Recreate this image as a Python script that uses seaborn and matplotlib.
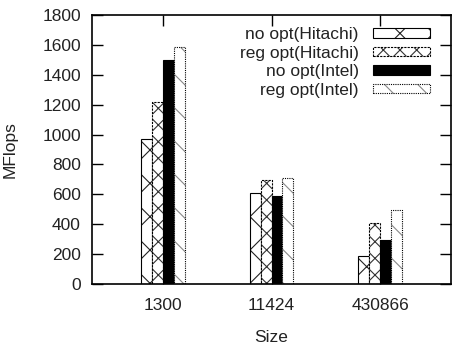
import matplotlib
matplotlib.use("Agg")
import matplotlib.pyplot as plt
import seaborn as sns
import pandas as pd

sizes = ["1300", "11424", "430866"]
series = ["no opt(Hitachi)", "reg opt(Hitachi)", "no opt(Intel)", "reg opt(Intel)"]
no_opt_hitachi = [967, 607, 189]
reg_opt_hitachi = [1218, 693, 411]
no_opt_intel = [1500, 587, 291]
reg_opt_intel = [1584, 711, 495]
yticks = [0, 200, 400, 600, 800, 1000, 1200, 1400, 1600, 1800]

values = [no_opt_hitachi, reg_opt_hitachi, no_opt_intel, reg_opt_intel]
rows = []
for name, vals in zip(series, values):
    for s, v in zip(sizes, vals):
        rows.append({"Size": s, "MFlops": v, "Config": name})
df = pd.DataFrame(rows)

sns.set_theme(style="white")
plt.rcParams["font.family"] = ["Liberation Sans", "DejaVu Sans"]
plt.rcParams["hatch.linewidth"] = 0.8

FS = 12.5
fig = plt.figure(figsize=(4.58, 3.48), dpi=100)
ax = fig.add_axes([0.201, 0.184, 0.784, 0.773])

sns.barplot(data=df, x="Size", y="MFlops", hue="Config", order=sizes,
            hue_order=series, width=0.4, palette=["white"] * 4,
            edgecolor="black", linewidth=0.8, saturation=1, ax=ax,
            legend=True)

styles = [
    dict(face="white", hatch="x", ls="-", hcolor="#222222"),
    dict(face="white", hatch="xx", ls=(0, (2, 1)), hcolor="#333333"),
    dict(face="black", hatch="", ls="-", hcolor="black"),
    dict(face="white", hatch="\\", ls=(0, (1, 1)), hcolor="#888888"),
]
for cont, st in zip(ax.containers, styles):
    for p in cont:
        p.set_facecolor(st["face"])
        p.set_hatch(st["hatch"])
        p.set_linestyle(st["ls"])
        p.set_edgecolor("black")
        p._hatch_color = matplotlib.colors.to_rgba(st["hcolor"])

ax.set_xlim(-0.654, 2.654)
ax.set_ylim(0, 1800)
ax.set_yticks(yticks)
ax.set_yticklabels([str(t) for t in yticks])
ax.set_xticks(range(len(sizes)))
ax.set_xticklabels(sizes)
ax.tick_params(axis="both", direction="in", length=8, width=1, color="black",
               labelsize=FS, labelcolor="#222222", top=True, right=True,
               bottom=True, left=True, pad=8)
ax.tick_params(axis="x", pad=10)
for sp in ax.spines.values():
    sp.set_visible(True)
    sp.set_color("black")
    sp.set_linewidth(1.2)

ax.set_xlabel("Size", fontsize=FS, color="#222222", labelpad=12)
ax.set_ylabel("MFlops", fontsize=FS, color="#222222")
ax.yaxis.set_label_coords(-0.208, 0.5)

handles, labels = ax.get_legend_handles_labels()
for h, st in zip(handles, styles):
    h.set_facecolor(st["face"])
    h.set_hatch(st["hatch"])
    h.set_linestyle(st["ls"])
    h.set_edgecolor("black")
    h._hatch_color = matplotlib.colors.to_rgba(st["hcolor"])
leg = ax.legend(handles, labels, loc="upper right", markerfirst=False,
                frameon=False, fontsize=FS, handlelength=3.3,
                handleheight=0.45, handletextpad=0.8, labelspacing=0.2,
                borderaxespad=0.3, bbox_to_anchor=(0.975, 1.0))
for t in leg.get_texts():
    t.set_color("#222222")

fig.savefig("out.png", dpi=100)
